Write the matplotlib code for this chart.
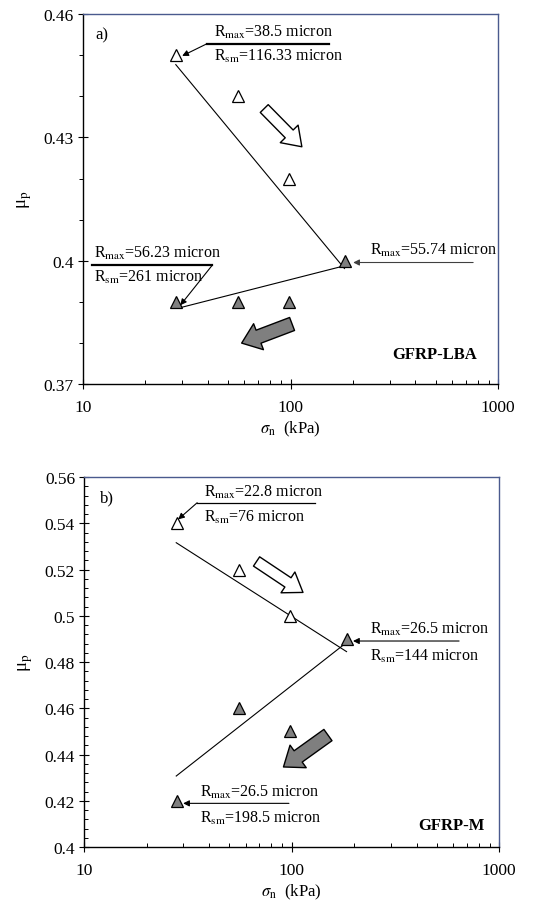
import matplotlib
matplotlib.use('Agg')
import matplotlib.pyplot as plt
from matplotlib.patches import FancyArrowPatch
from matplotlib.ticker import FixedLocator, MultipleLocator, FuncFormatter, LogLocator, NullFormatter

plt.rcParams['font.family'] = ['Liberation Serif', 'DejaVu Serif']
plt.rcParams['mathtext.fontset'] = 'stix'
plt.rcParams['font.size'] = 11.5

# datos
sigma_abierto = [28, 56, 98]
sigma_lleno = [28, 56, 98, 184]

mu_a_abierto = [0.45, 0.44, 0.42]
mu_a_lleno = [0.39, 0.39, 0.39, 0.40]
tend_a1_x = [28, 182]
tend_a1_y = [0.4477, 0.3981]
tend_a2_x = [29, 183]
tend_a2_y = [0.3885, 0.3988]

mu_b_abierto = [0.54, 0.52, 0.50]
mu_b_lleno = [0.42, 0.46, 0.45, 0.49]
tend_b1_x = [27.8, 184]
tend_b1_y = [0.5316, 0.4845]
tend_b2_x = [27.8, 179]
tend_b2_y = [0.4307, 0.4876]

yticks_a = [0.37, 0.40, 0.43, 0.46]
yticks_b = [0.40, 0.42, 0.44, 0.46, 0.48, 0.50, 0.52, 0.54, 0.56]
xticks = [10, 100, 1000]

GRIS = '#7f7f7f'
MARCO = '#4a5a8e'

fig = plt.figure(figsize=(5.39, 9.03), dpi=100)
ax1 = fig.add_axes([0.154, 0.5736, 0.770, 0.4097])
ax2 = fig.add_axes([0.156, 0.0609, 0.770, 0.4097])


def estilo_ejes(ax, yticks, ymin, ymax, yminor, ydir_minor):
    ax.set_xscale('log')
    ax.set_xlim(10, 1000)
    ax.set_ylim(ymin, ymax)
    ax.xaxis.set_major_locator(FixedLocator(xticks))
    ax.xaxis.set_minor_locator(LogLocator(base=10, subs=range(2, 10)))
    ax.xaxis.set_minor_formatter(NullFormatter())
    ax.xaxis.set_major_formatter(FuncFormatter(lambda v, p: '%g' % v))
    ax.yaxis.set_major_locator(FixedLocator(yticks))
    ax.yaxis.set_minor_locator(MultipleLocator(yminor))
    ax.yaxis.set_major_formatter(FuncFormatter(lambda v, p: '%g' % round(v, 3)))
    ax.tick_params(which='major', direction='inout', length=7, width=0.8, labelsize=12.5, pad=3)
    ax.tick_params(axis='x', which='minor', direction='in', length=3, width=0.7)
    ax.tick_params(axis='y', which='minor', direction=ydir_minor, length=3, width=0.7)
    ax.tick_params(axis='x', pad=7)
    for lado in ('top', 'right'):
        ax.spines[lado].set_color(MARCO)
    for s in ax.spines.values():
        s.set_linewidth(1.0)
    ax.set_xlabel(r'$\sigma_{\rm n}$  (kPa)', fontsize=12, labelpad=3)
    ax.set_ylabel('μ$_{\\rm p}$', fontsize=13.5, labelpad=7)


def flecha_bloque(ax, cola, punta, relleno, ancho=8, cabeza=18):
    estilo = 'simple,head_width=%g,head_length=13,tail_width=%g' % (cabeza, ancho)
    fl = FancyArrowPatch(cola, punta, transform=ax.transAxes, arrowstyle=estilo,
                         mutation_scale=1, facecolor=relleno, edgecolor='black', lw=1.0)
    ax.add_patch(fl)


def flecha_fina(ax, desde, hasta, color='black'):
    ax.annotate('', xy=hasta, xycoords='axes fraction', xytext=desde, textcoords='axes fraction',
                arrowprops=dict(arrowstyle='-|>', color=color, lw=0.8, mutation_scale=9,
                                shrinkA=0, shrinkB=0))


def linea(ax, xs, ys, lw):
    ax.plot(xs, ys, color='black', lw=lw, transform=ax.transAxes, clip_on=False)


# ---- a) GFRP-LBA
estilo_ejes(ax1, yticks_a, 0.37, 0.46, 0.01, 'out')
ax1.plot(tend_a1_x, tend_a1_y, color='black', lw=0.8)
ax1.plot(tend_a2_x, tend_a2_y, color='black', lw=0.8)
ax1.plot(sigma_abierto, mu_a_abierto, '^', ms=8.5, mfc='white', mec='black', mew=0.9, ls='none')
ax1.plot(sigma_lleno, mu_a_lleno, '^', ms=8.5, mfc=GRIS, mec='black', mew=0.9, ls='none')

ax1.text(0.03, 0.945, 'a)', transform=ax1.transAxes, va='center', ha='left', fontsize=12)
ax1.text(0.315, 0.952, r'R$_{\rm max}$=38.5 micron', transform=ax1.transAxes, va='center')
linea(ax1, [0.299, 0.592], [0.92, 0.92], 1.6)
ax1.text(0.315, 0.888, r'R$_{\rm sm}$=116.33 micron', transform=ax1.transAxes, va='center')
flecha_fina(ax1, (0.299, 0.92), (0.239, 0.887))

ax1.text(0.026, 0.355, r'R$_{\rm max}$=56.23 micron', transform=ax1.transAxes, va='center')
linea(ax1, [0.022, 0.312], [0.322, 0.322], 1.6)
ax1.text(0.026, 0.290, r'R$_{\rm sm}$=261 micron', transform=ax1.transAxes, va='center')
flecha_fina(ax1, (0.312, 0.322), (0.2345, 0.213))

ax1.text(0.691, 0.363, r'R$_{\rm max}$=55.74 micron', transform=ax1.transAxes, va='center')
flecha_fina(ax1, (0.940, 0.3285), (0.651, 0.3285), color='#404040')

ax1.text(0.949, 0.081, 'GFRP-LBA', transform=ax1.transAxes, va='center', ha='right',
         fontweight='bold', fontsize=12)
flecha_bloque(ax1, (0.432, 0.750), (0.532, 0.636), 'white')
flecha_bloque(ax1, (0.510, 0.165), (0.376, 0.108), GRIS, ancho=10, cabeza=20)

# ---- b) GFRP-M
estilo_ejes(ax2, yticks_b, 0.40, 0.56, 0.004, 'in')
ax2.plot(tend_b1_x, tend_b1_y, color='black', lw=0.8)
ax2.plot(tend_b2_x, tend_b2_y, color='black', lw=0.8)
ax2.plot(sigma_abierto, mu_b_abierto, '^', ms=8.5, mfc='white', mec='black', mew=0.9, ls='none')
ax2.plot(sigma_lleno, mu_b_lleno, '^', ms=8.5, mfc=GRIS, mec='black', mew=0.9, ls='none')

ax2.text(0.039, 0.946, 'b)', transform=ax2.transAxes, va='center', ha='left', fontsize=12)
ax2.text(0.289, 0.962, r'R$_{\rm max}$=22.8 micron', transform=ax2.transAxes, va='center')
linea(ax2, [0.2725, 0.556], [0.9306, 0.9306], 0.9)
ax2.text(0.289, 0.8946, r'R$_{\rm sm}$=76 micron', transform=ax2.transAxes, va='center')
flecha_fina(ax2, (0.2725, 0.9306), (0.2267, 0.8856))

ax2.text(0.689, 0.590, r'R$_{\rm max}$=26.5 micron', transform=ax2.transAxes, va='center')
flecha_fina(ax2, (0.9035, 0.5568), (0.648, 0.5568))
ax2.text(0.689, 0.518, r'R$_{\rm sm}$=144 micron', transform=ax2.transAxes, va='center')

ax2.text(0.2805, 0.1495, r'R$_{\rm max}$=26.5 micron', transform=ax2.transAxes, va='center')
flecha_fina(ax2, (0.4936, 0.118), (0.2387, 0.118))
ax2.text(0.2805, 0.0793, r'R$_{\rm sm}$=198.5 micron', transform=ax2.transAxes, va='center')

ax2.text(0.9654, 0.0604, 'GFRP-M', transform=ax2.transAxes, va='center', ha='right',
         fontweight='bold', fontsize=12)
flecha_bloque(ax2, (0.410, 0.776), (0.533, 0.684), 'white')
flecha_bloque(ax2, (0.593, 0.307), (0.475, 0.212), GRIS, ancho=10, cabeza=20)

fig.savefig('out.png', dpi=100)
